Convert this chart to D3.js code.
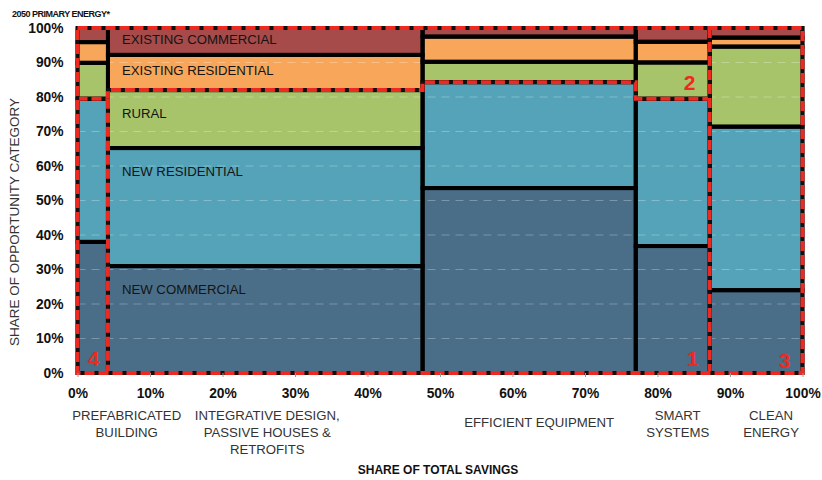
<!DOCTYPE html>
<html><head><meta charset="utf-8">
<script src="https://cdn.jsdelivr.net/npm/d3@7"></script>
<style>body{margin:0;background:#fff;}svg{display:block;font-family:"Liberation Sans",Arial,sans-serif;}</style>
</head><body><svg id="c" width="822" height="480"></svg>
<script>
// ---- data ----
const technologies = [["PREFABRICATED","BUILDING"],["INTEGRATIVE DESIGN,","PASSIVE HOUSES &","RETROFITS"],["EFFICIENT EQUIPMENT"],["SMART","SYSTEMS"],["CLEAN","ENERGY"]];
const savingsShare = [4.2, 43.4, 29.4, 10.2, 12.8];          // % of total savings (column widths)
const segments = ["NEW COMMERCIAL","NEW RESIDENTIAL","RURAL","EXISTING RESIDENTIAL","EXISTING COMMERCIAL"];
const newCommercial       = [38.0, 31.0, 53.6, 36.8, 24.0];
const newResidential      = [41.5, 34.2, 30.7, 42.7, 47.4];
const rural               = [10.4, 16.8,  5.9, 10.5, 23.2];
const existingResidential = [ 6.0, 10.2,  7.3,  6.0,  2.6];
const existingCommercial  = [ 4.1,  7.8,  2.5,  4.0,  2.8];
const yTicks = [0,10,20,30,40,50,60,70,80,90,100];
const xTicks = [0,10,20,30,40,50,60,70,80,90,100];
const colors = ["#4a6e88","#55a3b8","#a8c46a","#f8a65a","#a64a4a"];
const regionNumbers = ["1","2","3","4"];

// ---- build ----
const series = [newCommercial,newResidential,rural,existingResidential,existingCommercial];
const rows = technologies.map((t,i)=>{const r={i}; segments.forEach((s,k)=>r[s]=series[k][i]); return r;});
const stacked = d3.stack().keys(segments)(rows);
const colStart = []; let acc=0; savingsShare.forEach(w=>{colStart.push(acc); acc+=w;});
const colEnd = savingsShare.map((w,i)=>colStart[i]+w);

const svg = d3.select("#c");
const x = d3.scaleLinear().domain([0,100]).range([77.5,802.5]);
const y = d3.scaleLinear().domain([0,100]).range([373,28]);
const color = d3.scaleOrdinal().domain(segments).range(colors);

// fills
const g = svg.append("g");
stacked.forEach(layer=>{
  g.selectAll(null).data(layer).enter().append("rect")
    .attr("x",(d,i)=>x(colStart[i])).attr("width",(d,i)=>x(colEnd[i])-x(colStart[i]))
    .attr("y",d=>y(d[1])).attr("height",d=>y(d[0])-y(d[1]))
    .attr("fill",color(layer.key));
});
// grid lines
svg.append("g").selectAll("line").data(yTicks.filter(v=>v>0&&v<100)).enter().append("line")
  .attr("x1",x(0)).attr("x2",x(100)).attr("y1",d=>y(d)).attr("y2",d=>y(d))
  .attr("stroke","#fff").attr("stroke-opacity",0.28).attr("stroke-dasharray","8,6").attr("stroke-width",1);
// black separators
const gs = svg.append("g");
stacked.forEach(layer=>{
  gs.selectAll(null).data(layer).enter().append("rect")
    .attr("x",(d,i)=>x(colStart[i])).attr("width",(d,i)=>x(colEnd[i])-x(colStart[i]))
    .attr("y",d=>y(d[1])).attr("height",d=>y(d[0])-y(d[1]))
    .attr("fill","none").attr("stroke","#000").attr("stroke-width",4);
});

// segment labels in the second column
const lab = svg.append("g").attr("font-size",13.2).attr("fill","#141414");
stacked.forEach(layer=>{
  const d = layer[1];
  const top = y(d[1]), bot = y(d[0]);
  const cy = Math.min((top+bot)/2 - 2, top+23);
  lab.append("text").attr("x",x(colStart[1])+14).attr("y",cy).attr("dy","0.35em").text(layer.key);
});

// red dashed regions
const yNR = i=>newResidential[i]+newCommercial[i];
const yR  = i=>yNR(i)+rural[i];
const stepPts = [
  [x(0),y(yNR(0))],[x(colEnd[0]),y(yNR(0))],[x(colEnd[0]),y(yR(1))],[x(colEnd[1]),y(yR(1))],
  [x(colEnd[1]),y(yNR(2))],[x(colEnd[2]),y(yNR(2))],[x(colEnd[2]),y(yNR(3))],[x(colEnd[3]),y(yNR(3))]
];
const paths = [
  d3.line()(stepPts),
  d3.line()([[x(colEnd[0]),y(yNR(0))],[x(colEnd[0]),y(0)]]),
  d3.line()([[x(colEnd[3]),y(100)],[x(colEnd[3]),y(0)]]),
  d3.line()([[x(0),y(100)],[x(100),y(100)],[x(100),y(0)],[x(0),y(0)],[x(0),y(100)]])
];
const rg = svg.append("g").attr("fill","none");
paths.forEach(p=>{
  rg.append("path").attr("d",p).attr("stroke","#111").attr("stroke-width",3.5);
  rg.append("path").attr("d",p).attr("stroke","#ec2a22").attr("stroke-width",4).attr("stroke-dasharray","10,4");
});
// region numbers
const num = svg.append("g").attr("font-size",21).attr("font-weight","bold").attr("fill","#ec2a22").attr("text-anchor","middle");
num.append("text").attr("x",x(colEnd[3])-17).attr("y",y(2)).text(regionNumbers[0]);
num.append("text").attr("x",x(colEnd[3])-20).attr("y",y(yNR(3))-9).text(regionNumbers[1]);
num.append("text").attr("x",x(100)-18).attr("y",y(1.5)).text(regionNumbers[2]);
num.append("text").attr("x",x(colStart[0])+16).attr("y",y(2)).text(regionNumbers[3]);

// axes
const ya = svg.append("g").attr("transform",`translate(${x(0)},0)`)
  .call(d3.axisLeft(y).tickValues(yTicks).tickFormat(d=>d+"%").tickSize(0).tickPadding(14));
ya.select(".domain").remove();
ya.selectAll("text").attr("font-size",13.8).attr("font-weight","bold").attr("fill","#111").attr("font-family","Liberation Sans, Arial");
const xa = svg.append("g").attr("transform",`translate(0,${y(0)})`)
  .call(d3.axisBottom(x).tickValues(xTicks).tickFormat(d=>d+"%").tickSize(4).tickPadding(11));
xa.select(".domain").remove();
xa.selectAll("line").attr("stroke","#999");
xa.selectAll("text").attr("font-size",13.8).attr("font-weight","bold").attr("fill","#111").attr("font-family","Liberation Sans, Arial");

// category labels
const labelShift = [34, 2, 10, 5, 15];
const cat = svg.append("g").attr("font-size",13.2).attr("fill","#333").attr("text-anchor","middle");
technologies.forEach((lines,i)=>{
  const cx = x((colStart[i]+colEnd[i])/2)+labelShift[i];
  const y0 = lines.length===1 ? 427 : 420;
  const t = cat.append("text").attr("x",cx).attr("y",y0);
  lines.forEach((l,k)=>t.append("tspan").attr("x",cx).attr("y",y0+k*17).text(l));
});

// titles
svg.append("text").attr("x",438).attr("y",474).attr("text-anchor","middle").attr("font-size",12).attr("font-weight","bold").attr("fill","#111").text("SHARE OF TOTAL SAVINGS");
svg.append("text").attr("transform","translate(19,222) rotate(-90)").attr("text-anchor","middle").attr("font-size",13.5).attr("fill","#333").text("SHARE OF OPPORTUNITY CATEGORY");
svg.append("text").attr("x",12).attr("y",17).attr("font-size",9).attr("font-weight","bold").attr("letter-spacing",-0.5).attr("fill","#111").text("2050 PRIMARY ENERGY*");
</script></body></html>
